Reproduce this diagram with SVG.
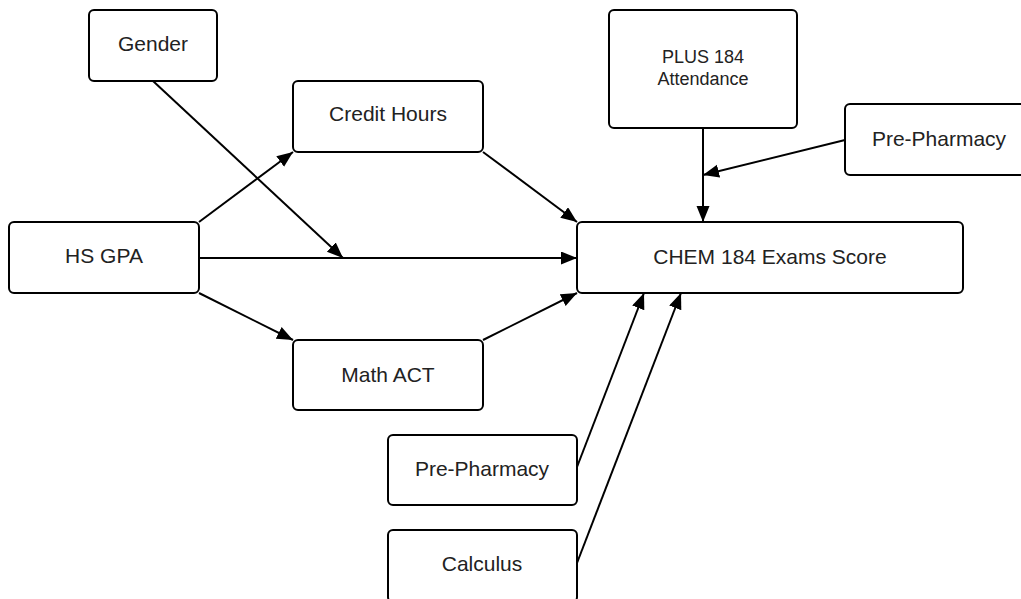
<svg xmlns="http://www.w3.org/2000/svg" width="1021" height="599" viewBox="0 0 1021 599">
  <style>
    .box { fill: #ffffff; stroke: #000000; stroke-width: 2; }
    .lbl { font-family: "Liberation Sans", Arial, sans-serif; font-size: 21px; fill: #222222; text-anchor: middle; }
    .sm { font-size: 18px; }
    .edge { fill: none; stroke: #000000; stroke-width: 2; marker-end: url(#arrow); }
  </style>
  <defs>
    <marker id="arrow" markerUnits="userSpaceOnUse" markerWidth="17" markerHeight="14" refX="16" refY="6.5" orient="auto">
      <path d="M0,0 L16,6.5 L0,13 z" fill="#000000"/>
    </marker>
  </defs>
  <rect width="1021" height="599" fill="#ffffff"/>

  <g id="connectors">
    <line class="edge" x1="199" y1="222" x2="293" y2="152"/>
    <line class="edge" x1="483" y1="152" x2="577" y2="222"/>
    <line class="edge" x1="199" y1="258" x2="577" y2="258"/>
    <line class="edge" x1="153" y1="81" x2="343" y2="258"/>
    <line class="edge" x1="199" y1="293" x2="293" y2="340"/>
    <line class="edge" x1="483" y1="340" x2="577" y2="293"/>
    <line class="edge" x1="703" y1="128" x2="703" y2="222"/>
    <line class="edge" x1="845" y1="140" x2="703" y2="175"/>
    <line class="edge" x1="577" y1="467" x2="644" y2="293"/>
    <line class="edge" x1="577" y1="563" x2="681" y2="293"/>
  </g>

  <g id="gender">
    <rect class="box" x="89" y="10" width="128" height="71" rx="5"/>
    <text class="lbl" x="153" y="51">Gender</text>
  </g>
  <g id="credit-hours">
    <rect class="box" x="293" y="81" width="190" height="71" rx="5"/>
    <text class="lbl" x="388" y="121">Credit Hours</text>
  </g>
  <g id="hs-gpa">
    <rect class="box" x="9" y="222" width="190" height="71" rx="5"/>
    <text class="lbl" x="104" y="263">HS GPA</text>
  </g>
  <g id="math-act">
    <rect class="box" x="293" y="340" width="190" height="70" rx="5"/>
    <text class="lbl" x="388" y="382">Math ACT</text>
  </g>
  <g id="chem-184">
    <rect class="box" x="577" y="222" width="386" height="71" rx="5"/>
    <text class="lbl" x="770" y="264">CHEM 184 Exams Score</text>
  </g>
  <g id="plus-184">
    <rect class="box" x="609" y="10" width="188" height="118" rx="5"/>
    <text class="lbl sm" x="703" y="63">PLUS 184</text>
    <text class="lbl sm" x="703" y="85">Attendance</text>
  </g>
  <g id="pre-pharmacy-top">
    <rect class="box" x="845" y="104" width="188" height="71" rx="5"/>
    <text class="lbl" x="939" y="146">Pre-Pharmacy</text>
  </g>
  <g id="pre-pharmacy-bottom">
    <rect class="box" x="388" y="435" width="189" height="70" rx="5"/>
    <text class="lbl" x="482" y="476">Pre-Pharmacy</text>
  </g>
  <g id="calculus">
    <rect class="box" x="388" y="530" width="189" height="72" rx="5"/>
    <text class="lbl" x="482" y="571">Calculus</text>
  </g>
</svg>
